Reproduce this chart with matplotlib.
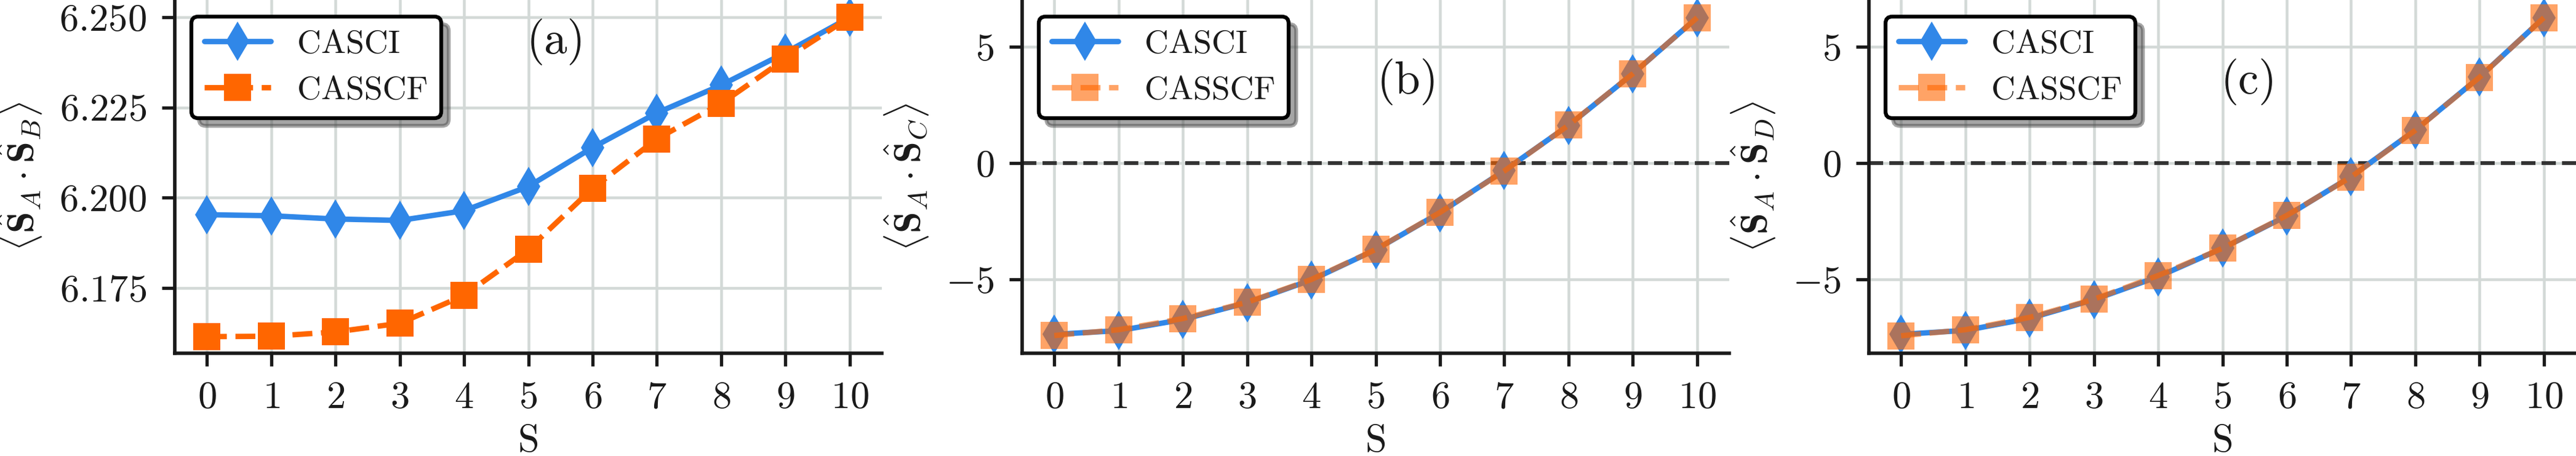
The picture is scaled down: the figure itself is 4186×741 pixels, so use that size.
import matplotlib
matplotlib.use('Agg')
import matplotlib.pyplot as plt
from matplotlib.ticker import FixedLocator, FuncFormatter

# ---------------- data ----------------
S = list(range(11))
xticks = list(range(11))

casci_ab = [6.1953, 6.1950, 6.1941, 6.1937, 6.1964, 6.2031, 6.2139, 6.2235, 6.2312, 6.2402, 6.2500]
casscf_ab = [6.1615, 6.1616, 6.1628, 6.1652, 6.1729, 6.1857, 6.2026, 6.2163, 6.2261, 6.2385, 6.2500]

casci_ac = [-7.36, -7.20, -6.72, -6.00, -5.02, -3.72, -2.13, -0.32, 1.62, 3.84, 6.25]
casscf_ac = [-7.41, -7.16, -6.68, -5.98, -5.00, -3.71, -2.12, -0.34, 1.63, 3.84, 6.25]

casci_ad = [-7.36, -7.19, -6.67, -5.87, -4.88, -3.66, -2.27, -0.58, 1.42, 3.70, 6.25]
casscf_ad = [-7.42, -7.16, -6.63, -5.85, -4.83, -3.66, -2.25, -0.60, 1.41, 3.69, 6.25]

yticks_a = [6.175, 6.200, 6.225, 6.250]
yticks_bc = [-5, 0, 5]

ylabels = [r'$\langle\hat{\mathbf{S}}_A\cdot\hat{\mathbf{S}}_B\rangle$',
           r'$\langle\hat{\mathbf{S}}_A\cdot\hat{\mathbf{S}}_C\rangle$',
           r'$\langle\hat{\mathbf{S}}_A\cdot\hat{\mathbf{S}}_D\rangle$']
panel_tags = ['(a)', '(b)', '(c)']
series_names = ['CASCI', 'CASSCF']

# ---------------- style ----------------
plt.rcParams['font.family'] = 'serif'
plt.rcParams['font.serif'] = ['cmr10']
plt.rcParams['mathtext.fontset'] = 'cm'
plt.rcParams['axes.formatter.use_mathtext'] = True
plt.rcParams['lines.solid_capstyle'] = 'round'

BLUE = '#3087e8'
ORANGE = '#ff6600'
GRID = '#d3d9d7'
INK = '#1a1a1a'

DPI = 450
fig = plt.figure(figsize=(4186 / DPI, 741 / DPI), dpi=DPI)
W = 1149 / 4186
H = 574 / 741
B = 167 / 741
lefts = [284 / 4186, 1661 / 4186, 3037 / 4186]
axes = [fig.add_axes([l, B, W, H]) for l in lefts]

data = [(casci_ab, casscf_ab), (casci_ac, casscf_ac), (casci_ad, casscf_ad)]
tag_pos = [(0.539, 0.881), (0.545, 0.769), (0.537, 0.768)]

for i, ax in enumerate(axes):
    ci, cf = data[i]
    ax.set_facecolor('white')
    for s in ['top', 'right']:
        ax.spines[s].set_visible(False)
    for s in ['left', 'bottom']:
        ax.spines[s].set_linewidth(0.9)
        ax.spines[s].set_color(INK)
    ax.grid(True, color=GRID, lw=0.72)
    ax.set_axisbelow(True)
    ax.tick_params(length=3.3, width=0.85, pad=4, labelsize=10, color=INK,
                   labelcolor=INK, direction='out')

    alpha_cf = 1.0 if i == 0 else 0.6
    if i > 0:
        ax.axhline(0, color='#333333', ls='--', lw=1.0, zorder=1.5)
    ax.plot(S, ci, color=BLUE, lw=1.4, marker='d', ms=7.3, mew=0,
            label=series_names[0], zorder=2)
    ax.plot(S, cf, color=ORANGE, lw=1.4, ls='--', marker='s', ms=6.9, mew=0,
            alpha=alpha_cf, label=series_names[1], zorder=3)

    ax.set_xlim(-0.5, 10.5)
    ax.xaxis.set_major_locator(FixedLocator(xticks))
    ax.xaxis.set_major_formatter(FuncFormatter(lambda v, p: r'$%d$' % round(v)))
    if i == 0:
        ax.set_ylim(6.1569, 6.2548)
        ax.yaxis.set_major_locator(FixedLocator(yticks_a))
        ax.yaxis.set_major_formatter(FuncFormatter(lambda v, p: r'$%.3f$' % v))
    else:
        ax.set_ylim(-8.17, 7.01)
        ax.yaxis.set_major_locator(FixedLocator(yticks_bc))
        ax.yaxis.set_major_formatter(FuncFormatter(lambda v, p: r'$%d$' % round(v)))

    ax.set_xlabel('S', fontsize=10, color=INK, labelpad=2.5)
    ax.set_ylabel(ylabels[i], fontsize=10, color=INK, labelpad=4)

    ax.text(tag_pos[i][0], tag_pos[i][1], panel_tags[i], transform=ax.transAxes,
            ha='center', va='center', fontsize=12, color=INK)

    leg = ax.legend(loc='upper left', fontsize=8.6, frameon=True, fancybox=True,
                    shadow=True, framealpha=1.0, edgecolor='black')
    leg.get_frame().set_linewidth(1.0)
    for t in leg.get_texts():
        t.set_color(INK)

fig.savefig('out.png', dpi=DPI, facecolor='white')
